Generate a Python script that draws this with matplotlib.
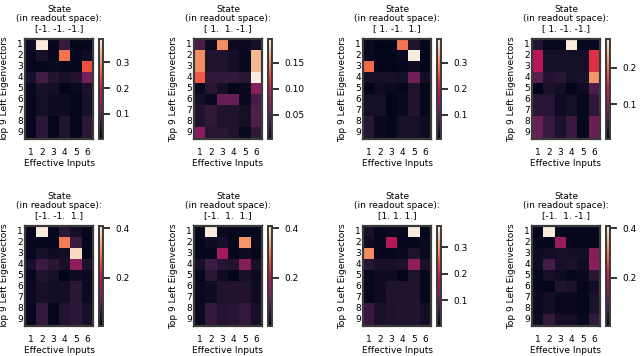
import numpy as np
import matplotlib
matplotlib.use("Agg")
import matplotlib.pyplot as plt
import seaborn as sns

inputs = ["1", "2", "3", "4", "5", "6"]
eigvecs = ["1", "2", "3", "4", "5", "6", "7", "8", "9"]

states = ["[-1. -1. -1.]", "[ 1.  1. -1.]", "[ 1. -1.  1.]", "[ 1. -1. -1.]",
          "[-1. -1.  1.]", "[-1.  1.  1.]", "[1. 1. 1.]", "[-1.  1. -1.]"]

m1 = [[0.02, 0.39, 0.01, 0.06, 0.01, 0.01],
      [0.01, 0.03, 0.01, 0.28, 0.01, 0.02],
      [0.01, 0.01, 0.015, 0.01, 0.01, 0.25],
      [0.03, 0.07, 0.04, 0.03, 0.04, 0.12],
      [0.01, 0.03, 0.025, 0.005, 0.015, 0.035],
      [0.01, 0.025, 0.02, 0.02, 0.01, 0.03],
      [0.01, 0.025, 0.02, 0.02, 0.01, 0.03],
      [0.01, 0.05, 0.01, 0.04, 0.01, 0.05],
      [0.01, 0.05, 0.01, 0.04, 0.01, 0.05]]

m2 = [[0.04, 0.01, 0.15, 0.01, 0.01, 0.015],
      [0.15, 0.02, 0.02, 0.015, 0.01, 0.17],
      [0.15, 0.02, 0.02, 0.015, 0.01, 0.17],
      [0.13, 0.03, 0.03, 0.03, 0.025, 0.195],
      [0.01, 0.025, 0.015, 0.005, 0.01, 0.07],
      [0.015, 0.01, 0.055, 0.055, 0.01, 0.04],
      [0.02, 0.03, 0.02, 0.02, 0.015, 0.045],
      [0.02, 0.03, 0.02, 0.02, 0.015, 0.045],
      [0.07, 0.025, 0.025, 0.02, 0.01, 0.03]]

m3 = [[0.02, 0.01, 0.01, 0.28, 0.04, 0.01],
      [0.02, 0.01, 0.01, 0.02, 0.39, 0.01],
      [0.27, 0.01, 0.01, 0.015, 0.025, 0.01],
      [0.035, 0.03, 0.035, 0.03, 0.12, 0.03],
      [0.01, 0.025, 0.02, 0.015, 0.04, 0.01],
      [0.03, 0.03, 0.01, 0.02, 0.045, 0.015],
      [0.03, 0.03, 0.01, 0.02, 0.045, 0.015],
      [0.05, 0.02, 0.015, 0.035, 0.035, 0.025],
      [0.05, 0.02, 0.015, 0.035, 0.035, 0.025]]

m4 = [[0.03, 0.01, 0.01, 0.28, 0.01, 0.01],
      [0.13, 0.02, 0.02, 0.02, 0.02, 0.16],
      [0.13, 0.02, 0.02, 0.02, 0.02, 0.16],
      [0.07, 0.03, 0.035, 0.02, 0.025, 0.22],
      [0.005, 0.025, 0.02, 0.005, 0.015, 0.06],
      [0.035, 0.035, 0.015, 0.02, 0.01, 0.04],
      [0.035, 0.035, 0.015, 0.02, 0.01, 0.04],
      [0.08, 0.045, 0.025, 0.045, 0.01, 0.08],
      [0.08, 0.045, 0.025, 0.045, 0.01, 0.08]]

m5 = [[0.01, 0.41, 0.01, 0.05, 0.03, 0.01],
      [0.01, 0.01, 0.01, 0.30, 0.07, 0.01],
      [0.01, 0.03, 0.02, 0.025, 0.39, 0.01],
      [0.03, 0.07, 0.05, 0.03, 0.15, 0.035],
      [0.01, 0.04, 0.03, 0.005, 0.02, 0.015],
      [0.015, 0.03, 0.025, 0.025, 0.05, 0.015],
      [0.015, 0.03, 0.025, 0.025, 0.05, 0.015],
      [0.01, 0.06, 0.01, 0.04, 0.05, 0.03],
      [0.01, 0.06, 0.01, 0.04, 0.05, 0.03]]

m6 = [[0.01, 0.41, 0.015, 0.01, 0.01, 0.01],
      [0.01, 0.02, 0.03, 0.01, 0.32, 0.015],
      [0.01, 0.01, 0.17, 0.01, 0.02, 0.01],
      [0.03, 0.07, 0.045, 0.04, 0.14, 0.03],
      [0.01, 0.05, 0.02, 0.005, 0.03, 0.015],
      [0.015, 0.02, 0.04, 0.04, 0.04, 0.02],
      [0.015, 0.02, 0.04, 0.04, 0.04, 0.02],
      [0.015, 0.06, 0.04, 0.045, 0.06, 0.03],
      [0.015, 0.06, 0.04, 0.045, 0.06, 0.03]]

m7 = [[0.03, 0.01, 0.015, 0.01, 0.38, 0.01],
      [0.02, 0.01, 0.17, 0.01, 0.01, 0.015],
      [0.29, 0.01, 0.01, 0.015, 0.035, 0.015],
      [0.045, 0.03, 0.03, 0.035, 0.14, 0.03],
      [0.01, 0.02, 0.02, 0.005, 0.035, 0.01],
      [0.01, 0.02, 0.035, 0.035, 0.04, 0.01],
      [0.01, 0.02, 0.035, 0.035, 0.04, 0.01],
      [0.06, 0.03, 0.035, 0.04, 0.04, 0.025],
      [0.06, 0.03, 0.035, 0.04, 0.04, 0.025]]

m8 = [[0.01, 0.41, 0.01, 0.01, 0.01, 0.01],
      [0.01, 0.01, 0.16, 0.01, 0.01, 0.01],
      [0.02, 0.025, 0.03, 0.025, 0.025, 0.14],
      [0.02, 0.08, 0.03, 0.035, 0.02, 0.15],
      [0.01, 0.03, 0.02, 0.01, 0.015, 0.05],
      [0.01, 0.005, 0.04, 0.035, 0.01, 0.025],
      [0.015, 0.025, 0.015, 0.015, 0.01, 0.035],
      [0.015, 0.025, 0.015, 0.015, 0.01, 0.035],
      [0.02, 0.06, 0.03, 0.03, 0.015, 0.06]]

mats = [m1, m2, m3, m4, m5, m6, m7, m8]
cbar_ticks = [[0.1, 0.2, 0.3], [0.05, 0.10, 0.15], [0.1, 0.2, 0.3], [0.1, 0.2],
              [0.2, 0.4], [0.2, 0.4], [0.1, 0.2, 0.3], [0.2, 0.4]]
cbar_fmt = ["%.1f", "%.2f", "%.1f", "%.1f", "%.1f", "%.1f", "%.1f", "%.1f"]

W, H = 640, 356
fig = plt.figure(figsize=(W / 100, H / 100), dpi=100)
fs = 6.5
frame = "#3a3a3a"

lefts = [25, 194, 363, 532]
tops = [39, 226]
hw, hh = 68, 99.5

for i, m in enumerate(mats):
    r, c = divmod(i, 4)
    x0, y0 = lefts[c], tops[r]
    ax = fig.add_axes([x0 / W, 1 - (y0 + hh) / H, hw / W, hh / H])
    cax = fig.add_axes([(x0 + hw + 5.5) / W, 1 - (y0 + hh) / H, 4 / W, hh / H])
    sns.heatmap(np.array(m), ax=ax, cbar_ax=cax, cmap="rocket",
                xticklabels=inputs, yticklabels=eigvecs)
    for s in ax.spines.values():
        s.set_visible(True)
        s.set_color(frame)
        s.set_linewidth(1.6)
    ax.tick_params(axis="x", length=0, pad=7, labelsize=fs, rotation=0)
    ax.tick_params(axis="y", length=0, pad=1.5, labelsize=fs, rotation=0)
    ax.set_xlabel("Effective Inputs", fontsize=fs, labelpad=1.5)
    ax.set_ylabel("Top 9 Left Eigenvectors", fontsize=fs, labelpad=6)
    ax.set_title("State\n(in readout space):\n" + states[i], fontsize=fs,
                 pad=6, linespacing=1.05)
    cb = ax.collections[0].colorbar
    cb.set_ticks(cbar_ticks[i])
    cb.ax.set_yticklabels([cbar_fmt[i] % t for t in cbar_ticks[i]])
    cb.ax.tick_params(labelsize=fs, length=5, width=1.3, pad=4, color="#222222")
    cb.outline.set_visible(True)
    cb.outline.set_edgecolor(frame)
    cb.outline.set_linewidth(1.4)

fig.savefig("out.png", dpi=100)
